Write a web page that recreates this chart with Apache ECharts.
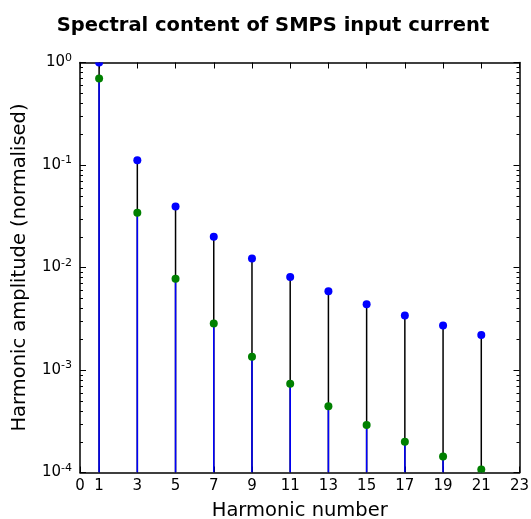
<!DOCTYPE html>
<html>
<head>
<meta charset="utf-8">
<script src="https://cdn.jsdelivr.net/npm/echarts@6/dist/echarts.min.js"></script>
<style>
  html, body { margin: 0; padding: 0; background: #fff; }
  #chart { width: 531px; height: 519px; }
</style>
</head>
<body>
<div id="chart"></div>
<script>
// Odd harmonics of the supply frequency
const harmonics = [1, 3, 5, 7, 9, 11, 13, 15, 17, 19, 21];
// Normalised amplitude, first spectrum (blue markers)
const amplitudeA = [1.0, 0.111, 0.0394, 0.0200, 0.01225, 0.00807, 0.00588, 0.00439, 0.0034, 0.00272, 0.0022];
// Normalised amplitude, second spectrum (green markers)
const amplitudeB = [0.698, 0.0342, 0.00776, 0.00284, 0.00135, 0.000733, 0.000444, 0.00029, 0.0002, 0.000143, 0.000107];
// x tick positions
const xTicks = [0, 1, 3, 5, 7, 9, 11, 13, 15, 17, 19, 21, 23];
const yMin = 1e-4, yMax = 1;

// minor decade ticks 2..9 x 10^n
const minorTicks = [];
for (let e = -4; e < 0; e++) {
  for (let m = 2; m <= 9; m++) minorTicks.push(m * Math.pow(10, e));
}

const FONT = 'DejaVu Sans';

// vertical stem from the bottom of the axis up to each value
function stemSeries(values, color, z) {
  return {
    type: 'custom',
    coordinateSystem: 'cartesian2d',
    xAxisIndex: 0, yAxisIndex: 0,
    clip: true,
    z: z,
    silent: true,
    data: harmonics.map((h, i) => [h, values[i]]),
    renderItem: function (params, api) {
      const top = api.coord([api.value(0), api.value(1)]);
      const bot = api.coord([api.value(0), yMin]);
      return {
        type: 'line',
        shape: { x1: top[0], y1: top[1], x2: bot[0], y2: bot[1] },
        style: { stroke: color, lineWidth: 1.5 }
      };
    }
  };
}

// round marker at the head of each stem, clipped to the plot frame
function markerSeries(values, color, z) {
  return {
    type: 'custom',
    coordinateSystem: 'cartesian2d',
    xAxisIndex: 0, yAxisIndex: 0,
    clip: true,
    z: z,
    silent: true,
    data: harmonics.map((h, i) => [h, values[i]]),
    renderItem: function (params, api) {
      const p = api.coord([api.value(0), api.value(1)]);
      return {
        type: 'circle',
        shape: { cx: p[0], cy: p[1], r: 4 },
        style: { fill: color }
      };
    }
  };
}

const minorTickSeries = {
  type: 'custom',
  coordinateSystem: 'cartesian2d',
  xAxisIndex: 0, yAxisIndex: 0,
  silent: true,
  z: 20,
  data: minorTicks.map(v => [0, v]),
  renderItem: function (params, api) {
    const cs = params.coordSys;
    const p = api.coord([0, api.value(1)]);
    const y = Math.round(p[1]) + 0.5;
    const st = { stroke: '#000', lineWidth: 1 };
    return {
      type: 'group',
      children: [
        { type: 'line', shape: { x1: cs.x, y1: y, x2: cs.x + 3, y2: y }, style: st },
        { type: 'line', shape: { x1: cs.x + cs.width, y1: y, x2: cs.x + cs.width - 3, y2: y }, style: st }
      ]
    };
  }
};

const axisLineStyle = { show: true, onZero: false, lineStyle: { color: '#000', width: 1.5 } };

const chart = echarts.init(document.getElementById('chart'), null, { renderer: 'canvas' });
chart.setOption({
  animation: false,
  backgroundColor: '#fff',
  title: {
    text: 'Spectral content of SMPS input current',
    left: 268, top: 11, textAlign: 'center',
    textStyle: { fontFamily: FONT, fontSize: 19.5, fontWeight: 'bold', color: '#000' }
  },
  grid: { left: 80, right: 11.5, top: 62.5, bottom: 46.5, containLabel: false, outerBoundsMode: 'none' },
  xAxis: [
    {
      type: 'value', min: 0, max: 23, position: 'bottom',
      name: 'Harmonic number', nameLocation: 'middle', nameGap: 28,
      nameTextStyle: { fontFamily: FONT, fontSize: 19.5, color: '#000' },
      axisLine: axisLineStyle,
      axisTick: { show: true, inside: true, length: 6, customValues: xTicks, lineStyle: { color: '#000', width: 1 } },
      axisLabel: { customValues: xTicks, fontFamily: FONT, fontSize: 15, color: '#000', margin: 6 },
      splitLine: { show: false }
    },
    {
      type: 'value', min: 0, max: 23, position: 'top',
      axisLine: axisLineStyle,
      axisTick: { show: true, inside: true, length: 6, customValues: xTicks, lineStyle: { color: '#000', width: 1 } },
      axisLabel: { show: false },
      splitLine: { show: false }
    }
  ],
  yAxis: [
    {
      type: 'log', logBase: 10, min: yMin, max: yMax, position: 'left',
      name: 'Harmonic amplitude (normalised)', nameLocation: 'middle', nameGap: 50,
      nameTextStyle: { fontFamily: FONT, fontSize: 19.5, color: '#000' },
      axisLine: axisLineStyle,
      axisTick: { show: true, inside: true, length: 6, lineStyle: { color: '#000', width: 1 } },
      axisLabel: {
        fontFamily: FONT, fontSize: 15, color: '#000', margin: 8,
        formatter: function (v) {
          return '{b|10}{s|' + Math.round(Math.log10(v)) + '}';
        },
        rich: {
          b: { fontFamily: FONT, fontSize: 15, color: '#000' },
          s: { fontFamily: FONT, fontSize: 11, color: '#000', padding: [0, 0, 9, 0] }
        }
      },
      splitLine: { show: false }
    },
    {
      type: 'log', logBase: 10, min: yMin, max: yMax, position: 'right',
      axisLine: axisLineStyle,
      axisTick: { show: true, inside: true, length: 6, lineStyle: { color: '#000', width: 1 } },
      axisLabel: { show: false },
      splitLine: { show: false }
    }
  ],
  series: [
    stemSeries(amplitudeA, '#000000', 2),
    stemSeries(amplitudeB, '#0000ff', 3),
    markerSeries(amplitudeA, '#0000ff', 4),
    markerSeries(amplitudeB, '#008000', 5),
    minorTickSeries
  ]
});
</script>
</body>
</html>
